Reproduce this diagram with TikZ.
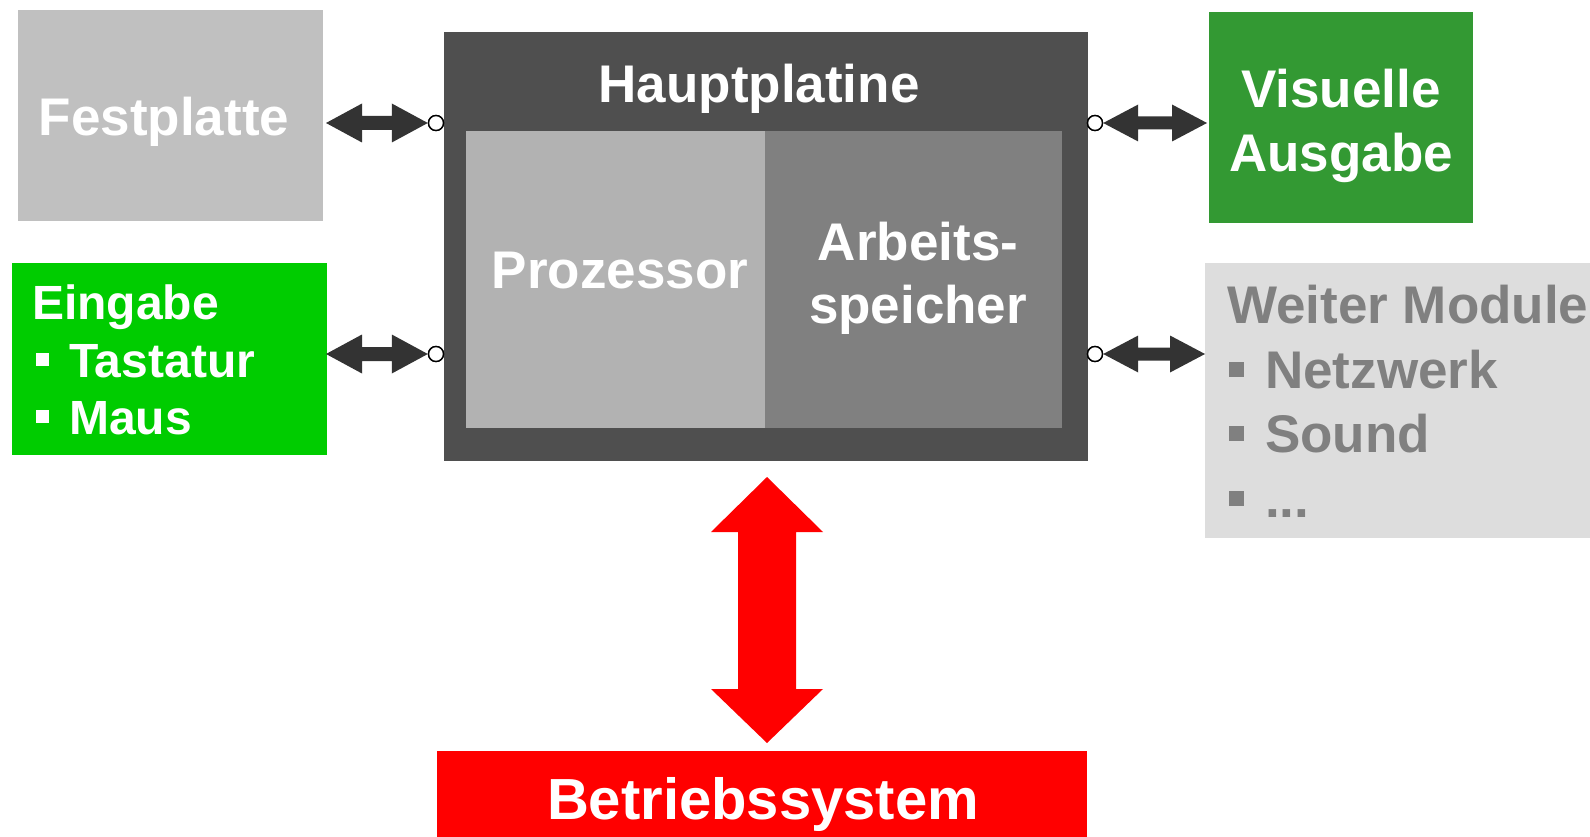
\documentclass[tikz,border=0pt]{standalone}
\usepackage{fontspec}
\setmainfont{Liberation Sans}
\usetikzlibrary{calc}
\definecolor{festgray}{HTML}{C0C0C0}
\definecolor{eingreen}{HTML}{00CC00}
\definecolor{visgreen}{HTML}{339933}
\definecolor{mbgray}{HTML}{4F4F4F}
\definecolor{progray}{HTML}{B2B2B2}
\definecolor{ramgray}{HTML}{808080}
\definecolor{modbg}{HTML}{DDDDDD}
\definecolor{modtxt}{HTML}{808080}
\definecolor{arrowc}{HTML}{333333}
\definecolor{osred}{HTML}{FF0000}
\newcommand\bulA{\rule[11pt]{13pt}{13pt}\hspace{20pt}}
\newcommand\bulB{\rule[11pt]{15pt}{15pt}\hspace{21pt}}
% horizontal fat double arrow between two named points
\newcommand\fatH[5]{% #1 left point, #2 right point, #3 head length, #4 head half height, #5 shaft half height
  \fill[arrowc] let \p1=(#1), \p2=(#2) in
    (\x1,\y1) -- (\x1+#3,\y1+#4) -- (\x1+#3,\y1+#5) -- (\x2-#3,\y1+#5) -- (\x2-#3,\y1+#4)
    -- (\x2,\y1) -- (\x2-#3,\y1-#4) -- (\x2-#3,\y1-#5) -- (\x1+#3,\y1-#5) -- (\x1+#3,\y1-#4) -- cycle;}
\begin{document}
\begin{tikzpicture}[x=1pt,y=-1pt,
  box/.style={rectangle, inner sep=0pt, outer sep=0pt, anchor=north west, draw=none},
  txt/.style={font=\bfseries\fontsize{53}{64}\selectfont, text=white, inner sep=0pt, anchor=base},
  txtsmall/.style={font=\bfseries\fontsize{48}{57}\selectfont, text=white, inner sep=0pt, anchor=base west},
  modt/.style={font=\bfseries\fontsize{53}{64}\selectfont, text=modtxt, inner sep=0pt, anchor=base west},
  port/.style={circle, draw=black, fill=white, line width=1.4pt, inner sep=0pt, minimum size=15pt}]
\useasboundingbox (0,0) rectangle (1590,837);
% boxes
\node[box, fill=festgray, minimum width=305pt, minimum height=211pt] (fest) at (18,10) {};
\node[box, fill=eingreen, minimum width=315pt, minimum height=192pt] (ein) at (12,263) {};
\node[box, fill=mbgray, minimum width=644pt, minimum height=429pt] (mb) at (444,32) {};
\node[box, fill=progray, minimum width=299pt, minimum height=297pt] (pro) at (466,131) {};
\node[box, fill=ramgray, minimum width=297pt, minimum height=297pt] (ram) at (765,131) {};
\node[box, fill=visgreen, minimum width=264pt, minimum height=211pt] (vis) at (1209,12) {};
\node[box, fill=modbg, minimum width=390pt, minimum height=275pt] (mod) at (1205,263) {};
\node[box, fill=osred, minimum width=650pt, minimum height=90pt] (os) at (437,751) {};
% texts
\node[txt] (tfest) at (164,136) {Festplatte};
\node[txt] (tmb) at (759,103) {Hauptplatine};
\node[txt] (tpro) at (620,288) {Prozessor};
\node[txt] (tram1) at (918,260) {Arbeits-};
\node[txt] (tram2) at (918,323) {speicher};
\node[txt] (tvis1) at (1341,107.5) {Visuelle};
\node[txt] (tvis2) at (1341,172) {Ausgabe};
\node[txt, font=\bfseries\fontsize{58}{70}\selectfont] (tos) at (763,819) {Betriebssystem};
\node[txtsmall] (tein1) at (32,319) {Eingabe};
\node[txtsmall] (tein2) at (36,377) {\bulA Tastatur};
\node[txtsmall] (tein3) at (36,434) {\bulA Maus};
\node[modt] (tmod1) at (1227,323) {Weiter Module};
\node[modt] (tmod2) at (1229,388) {\bulB Netzwerk};
\node[modt] (tmod3) at (1229,452) {\bulB Sound};
\node[modt] (tmod4) at (1229,517) {\bulB ...};
% ports
\node[port] (p1) at (436,123) {};
\node[port] (p2) at (436,354) {};
\node[port] (p3) at (1095,123) {};
\node[port] (p4) at (1095,354) {};
% connector end points
\coordinate (a1) at ($(fest.east |- p1)+(3,0)$);
\coordinate (a2) at ($(ein.east |- p2)+(-1,0)$);
\coordinate (a3) at ($(vis.west |- p3)+(-2,0)$);
\coordinate (a4) at ($(mod.west |- p4)+(0,0)$);
\fatH{a1}{p1.west}{36pt}{19.5pt}{7pt}
\fatH{a2}{p2.west}{36pt}{19.5pt}{7pt}
\fatH{p3.east}{a3}{35pt}{18.5pt}{6.5pt}
\fatH{p4.east}{a4}{35pt}{18.5pt}{6.5pt}
\node[port] at (p1) {};
\node[port] at (p2) {};
\node[port] at (p3) {};
\node[port] at (p4) {};
% red vertical arrow
\coordinate (rt) at ($(mb.south)+(1,16)$);
\coordinate (rb) at ($(os.north)+(5,-8)$);
\fill[osred] let \p1=(rt), \p2=(rb) in
  (\x1,\y1) -- (\x1+56pt,\y1-55pt) -- (\x1+29pt,\y1-55pt) -- (\x1+29pt,\y2+54pt) -- (\x1+56pt,\y2+54pt)
  -- (\x1,\y2) -- (\x1-56pt,\y2+54pt) -- (\x1-29pt,\y2+54pt) -- (\x1-29pt,\y1-55pt) -- (\x1-56pt,\y1-55pt) -- cycle;
\end{tikzpicture}
\end{document}
